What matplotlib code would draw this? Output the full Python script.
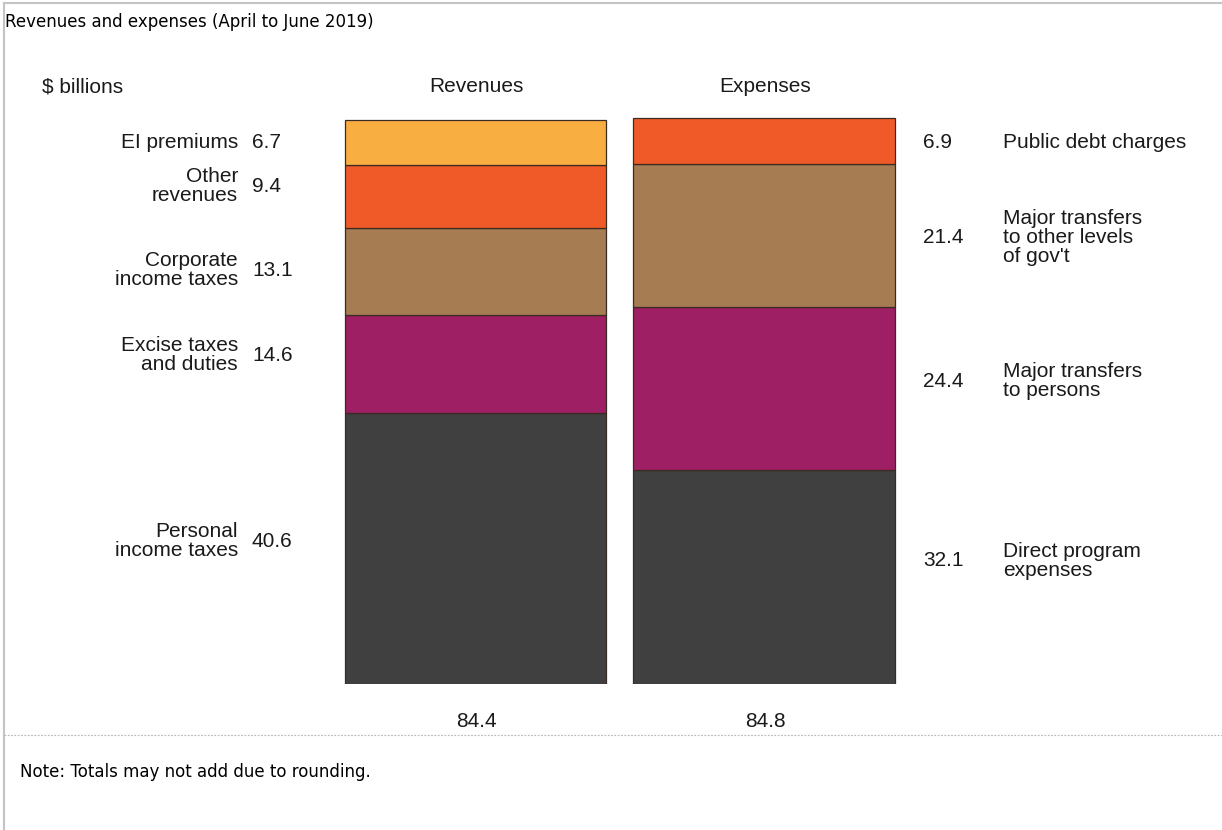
import matplotlib.pyplot as plt
from matplotlib.lines import Line2D

# revenues (bottom to top)
rev_names = ['Personal\nincome taxes', 'Excise taxes\nand duties', 'Corporate\nincome taxes',
             'Other\nrevenues', 'EI premiums']
rev_values = [40.6, 14.6, 13.1, 9.4, 6.7]
rev_total = 84.4

# expenses (bottom to top)
exp_names = ['Direct program\nexpenses', 'Major transfers\nto persons',
             "Major transfers\nto other levels\nof gov't", 'Public debt charges']
exp_values = [32.1, 24.4, 21.4, 6.9]
exp_total = 84.8

rev_colors = ['#404041', '#9e1f63', '#a67c52', '#f05a28', '#f9ae42']
exp_colors = ['#404041', '#9e1f63', '#a67c52', '#f05a28']

W, H = 1222, 830
fig = plt.figure(figsize=(W / 100, H / 100), dpi=100)


def px(x, y):
    return x / W, 1 - y / H


# bar axes: y=0 at pixel 684, 6.68 px per billion
scale = 6.68
ymax = 90
ax = fig.add_axes([331.25 / W, (H - 684) / H, 577 / W, ymax * scale / H])
ax.set_xlim(-0.5, 1.5)
ax.set_ylim(0, ymax)
ax.axis('off')

bottom = 0
for v, c in zip(rev_values, rev_colors):
    ax.bar(0, v, bottom=bottom, width=0.905, color=c, edgecolor='#3a2c22', linewidth=0.9)
    bottom += v
bottom = 0
for v, c in zip(exp_values, exp_colors):
    ax.bar(1, v, bottom=bottom, width=0.905, color=c, edgecolor='#3a2c22', linewidth=0.9)
    bottom += v

lab = dict(family='Liberation Sans', fontsize=15, color='#1a1a1a', linespacing=1.0)

# headers
fig.text(*px(42, 87), '$ billions', ha='left', va='center', **lab)
fig.text(*px(476, 87), 'Revenues', ha='center', va='center', **lab)
fig.text(*px(765, 87), 'Expenses', ha='center', va='center', **lab)

# revenue labels (pixel y of label centre)
rev_label_y = [541, 355, 270, 186, 142]
for name, v, ly in zip(rev_names, rev_values, rev_label_y):
    fig.text(*px(238, ly), name, ha='right', va='center', multialignment='right', **lab)
    fig.text(*px(252, ly), f'{v:.1f}', ha='left', va='center', **lab)

exp_label_y = [561, 381, 237, 142]
for name, v, ly in zip(exp_names, exp_values, exp_label_y):
    fig.text(*px(1003, ly), name, ha='left', va='center', **lab)
    fig.text(*px(923, ly), f'{v:.1f}', ha='left', va='center', **lab)

# totals
fig.text(*px(476, 721), f'{rev_total:.1f}', ha='center', va='center', **lab)
fig.text(*px(765, 721), f'{exp_total:.1f}', ha='center', va='center', **lab)

# title, note and frame
fig.text(*px(5, 22), 'Revenues and expenses (April to June 2019)', ha='left', va='center',
         family='DejaVu Sans', fontsize=12, color='black')
fig.text(*px(20, 772), 'Note: Totals may not add due to rounding.', ha='left', va='center',
         family='DejaVu Sans', fontsize=12, color='black')

fig.add_artist(Line2D([4 / W, 1], [1 - 3 / H, 1 - 3 / H], transform=fig.transFigure,
                      color='#c4c4c4', linewidth=1.5))
fig.add_artist(Line2D([4 / W, 4 / W], [0, 1 - 3 / H], transform=fig.transFigure,
                      color='#c4c4c4', linewidth=1.5))
fig.add_artist(Line2D([4 / W, 1], [1 - 735 / H, 1 - 735 / H], transform=fig.transFigure,
                      color='#b4b4b4', linewidth=0.8, linestyle=(0, (1.5, 1.5))))

fig.savefig('out.png', dpi=100)
